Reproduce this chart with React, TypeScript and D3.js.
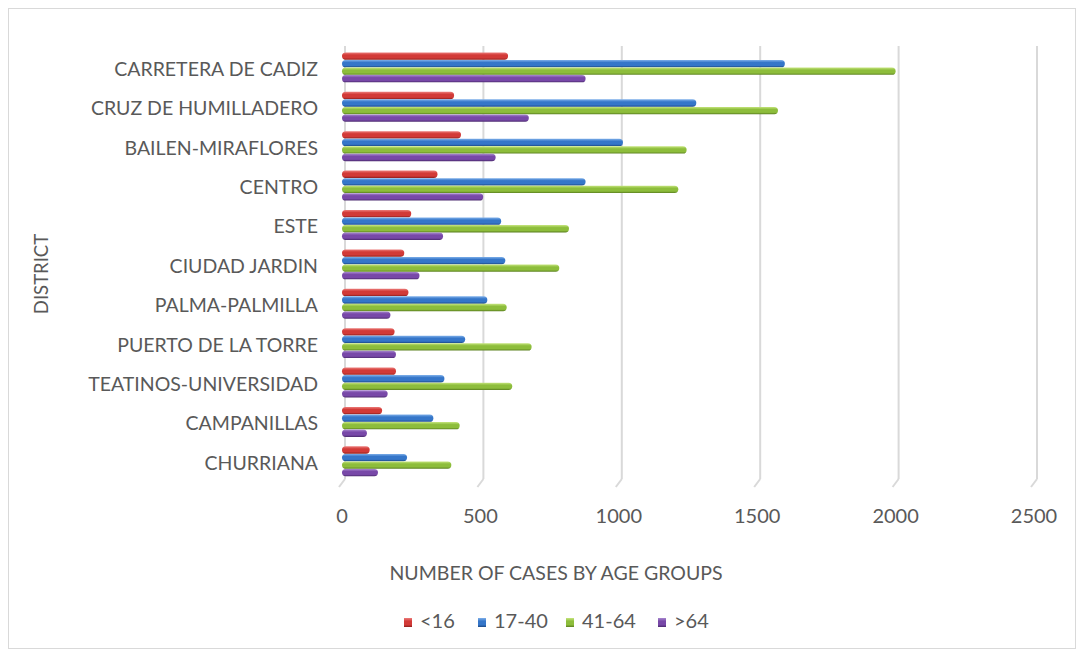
import React from "react";
import * as d3 from "d3";

const districts = [
  "CARRETERA DE CADIZ",
  "CRUZ DE HUMILLADERO",
  "BAILEN-MIRAFLORES",
  "CENTRO",
  "ESTE",
  "CIUDAD JARDIN",
  "PALMA-PALMILLA",
  "PUERTO DE LA TORRE",
  "TEATINOS-UNIVERSIDAD",
  "CAMPANILLAS",
  "CHURRIANA",
];
const seriesNames = ["<16", "17-40", "41-64", ">64"];
const under16 = [600, 405, 430, 345, 250, 225, 240, 190, 195, 145, 100];
const age17to40 = [1600, 1280, 1015, 880, 575, 590, 525, 445, 370, 330, 235];
const age41to64 = [2000, 1575, 1245, 1215, 820, 785, 595, 685, 615, 425, 395];
const over64 = [880, 675, 555, 510, 365, 280, 175, 195, 165, 90, 130];
const xTicks = [0, 500, 1000, 1500, 2000, 2500];

const seriesValues = [under16, age17to40, age41to64, over64];
const colors = [
  { light: "#ec7d7b", base: "#d23a37", dark: "#8e1f1d" },
  { light: "#7fb0ea", base: "#3576c9", dark: "#1d4a86" },
  { light: "#c6e57e", base: "#8dbd3b", dark: "#5a7f1f" },
  { light: "#a888cf", base: "#7848a8", dark: "#4b2a6e" },
];

const FONT = "Lato, 'Open Sans', sans-serif";
const TEXT = "#595959";

export default function App() {
  const x = d3.scaleLinear().domain([0, 2500]).range([342, 1034]);
  const y = d3
    .scaleBand<string>()
    .domain(districts)
    .range([47.7, 481])
    .paddingInner(0.24)
    .paddingOuter(0.12);
  const inner = d3
    .scaleBand<string>()
    .domain(seriesNames)
    .range([0, y.bandwidth()])
    .paddingInner(0.03);

  const gridTop = 46;
  const gridBottom = 479;

  return (
    <svg
      width={1084}
      height={657}
      style={{ position: "absolute", left: 0, top: 0, background: "#fff" }}
      fontFamily={FONT}
    >
      <defs>
        {colors.map((c, i) => (
          <linearGradient key={i} id={`g${i}`} x1="0" y1="0" x2="0" y2="1">
            <stop offset="0%" stopColor={c.light} />
            <stop offset="35%" stopColor={c.base} />
            <stop offset="75%" stopColor={c.base} />
            <stop offset="100%" stopColor={c.dark} />
          </linearGradient>
        ))}
      </defs>
      <rect x={8.5} y={8.5} width={1067} height={640} fill="#fff" stroke="#d9d9d9" strokeWidth={1} />

      {/* gridlines (3D wall + floor) */}
      {xTicks.map((t) => {
        const gx = x(t) + 3;
        return (
          <g key={t} stroke="#d9d9d9" strokeWidth={2} fill="none">
            <line x1={gx} x2={gx} y1={gridTop} y2={gridBottom} />
            <line x1={gx} x2={gx - 6} y1={gridBottom} y2={gridBottom + 8} />
          </g>
        );
      })}

      {/* bars */}
      {districts.map((d, di) => (
        <g key={d} transform={`translate(0,${y(d)})`}>
          {seriesNames.map((s, si) => {
            const v = seriesValues[si][di];
            const h = inner.bandwidth();
            const x0 = x(0);
            const w = x(v) - x0;
            return (
              <rect
                key={s}
                x={x0}
                y={inner(s)}
                width={w}
                height={h}
                rx={h / 2}
                ry={h / 2}
                fill={`url(#g${si})`}
              />
            );
          })}
        </g>
      ))}

      {/* category labels */}
      {districts.map((d) => (
        <text
          key={d}
          x={318}
          y={(y(d) as number) + y.bandwidth() / 2 + 3.5}
          textAnchor="end"
          dominantBaseline="middle"
          fontSize={19.5}
          fill={TEXT}
        >
          {d}
        </text>
      ))}

      {/* x tick labels */}
      {xTicks.map((t) => (
        <text key={t} x={x(t)} y={518} textAnchor="middle" dominantBaseline="middle" fontSize={20} fill={TEXT}>
          {t}
        </text>
      ))}

      {/* axis titles */}
      <text x={556} y={575} textAnchor="middle" dominantBaseline="middle" fontSize={19.5} fill={TEXT}>
        NUMBER OF CASES BY AGE GROUPS
      </text>
      <text
        transform="translate(43,274) rotate(-90)"
        textAnchor="middle"
        dominantBaseline="middle"
        fontSize={18.5}
        fill={TEXT}
      >
        DISTRICT
      </text>

      {/* legend */}
      {(() => {
        const starts = [404, 478, 566, 658];
        return seriesNames.map((s, i) => (
          <g key={s} transform={`translate(${starts[i]},622.5)`}>
            <rect x={0} y={-4.5} width={8} height={9} fill={`url(#g${i})`} />
            <text x={16} y={0} dominantBaseline="middle" fontSize={20} fill={TEXT}>
              {s}
            </text>
          </g>
        ));
      })()}
    </svg>
  );
}
